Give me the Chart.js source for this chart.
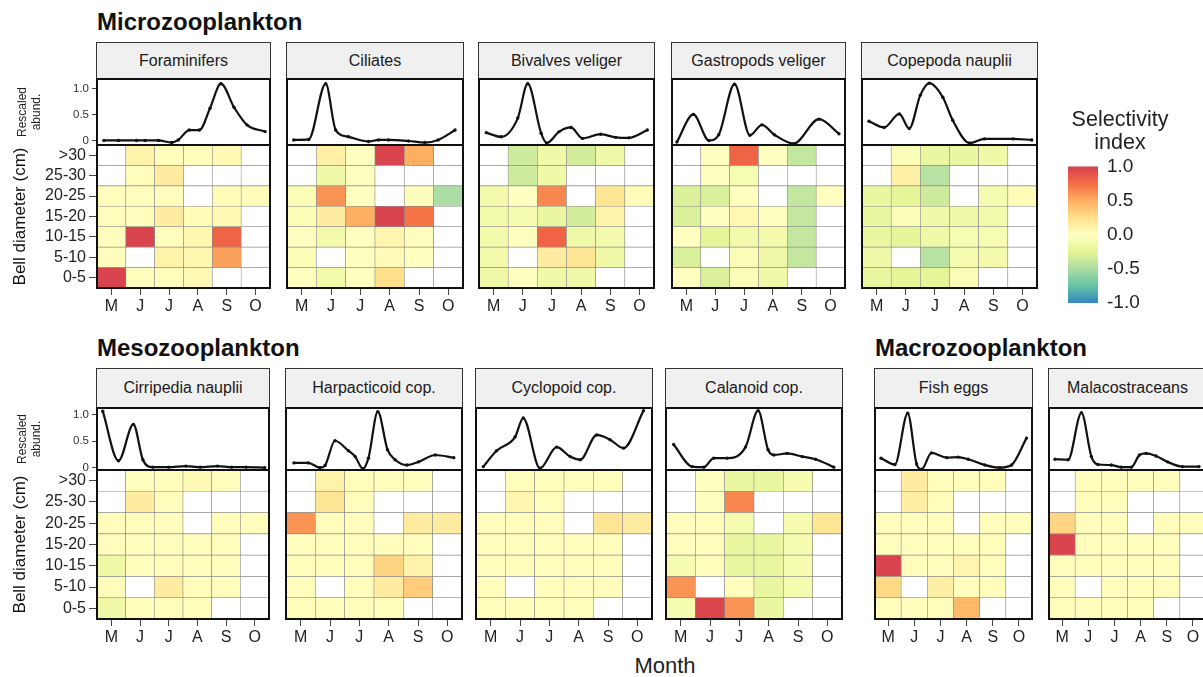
<!DOCTYPE html>
<html>
<head>
<meta charset="utf-8">
<script src="https://cdn.jsdelivr.net/npm/chart.js@4/dist/chart.umd.min.js"></script>
<style>
body{margin:0;width:1203px;height:677px;overflow:hidden;background:#fff;position:relative;font-family:"Liberation Sans",Arial,sans-serif;color:#111}
.grp{position:absolute;font-weight:bold;font-size:24px;line-height:28px;white-space:nowrap}
.strip{position:absolute;box-sizing:border-box;background:#f0f0f0;border:1.5px solid #333;text-align:center;font-size:16px;color:#1a1a1a;white-space:nowrap;overflow:hidden}
canvas{position:absolute}
</style>
</head>
<body>
<div class="grp" style="left:97px;top:8px">Microzooplankton</div>
<div class="grp" style="left:97px;top:334px">Mesozooplankton</div>
<div class="grp" style="left:875px;top:334px">Macrozooplankton</div>
<div style="position:absolute;left:600px;width:130px;top:653px;text-align:center;font-size:22px;color:#222">Month</div>
<script>
// months on the x axis, size classes bottom -> top
var months = ['M', 'J', 'J', 'A', 'S', 'O'];
var sizeClasses = ['0-5', '5-10', '10-15', '15-20', '20-25', '25-30', '>30'];
var abundTicks = [0, 0.5, 1];
var legendTicks = [-1, -0.5, 0, 0.5, 1];

// rescaled abundance: [month position, value], 0 = start of May
var foraminifersAbund = [[0.24,0.01],[0.74,0.01],[1.37,0.01],[1.67,0.01],[2.13,0.01],[2.59,-0.03],[2.82,0.02],[3.2,0.21],[3.55,0.21],[3.92,0.63],[4.3,1.1],[4.75,0.65],[5.2,0.31],[5.83,0.18]];
var ciliatesAbund = [[0.23,0.02],[0.74,0.03],[1.32,1.1],[1.66,0.21],[2.1,0.08],[2.78,-0.01],[3.12,0.02],[3.46,0.02],[4.14,0.0],[4.7,-0.03],[5.15,0.02],[5.73,0.21]];
var bivalvesAbund = [[0.25,0.16],[0.76,0.08],[1.33,0.44],[1.67,1.1],[2.13,0.15],[2.32,-0.04],[2.75,0.18],[3.15,0.26],[3.55,0.05],[4.17,0.13],[4.69,0.07],[5.14,0.06],[5.77,0.21]];
var gastropodsAbund = [[0.17,-0.02],[0.74,0.51],[1.28,0.01],[1.62,0.12],[2.17,1.09],[2.7,0.11],[3.12,0.31],[3.55,0.12],[4.22,-0.05],[5.1,0.42],[5.79,0.14]];
var copepodaAbund = [[0.24,0.38],[0.76,0.26],[1.28,0.52],[1.62,0.24],[2.0,0.88],[2.31,1.11],[2.77,0.84],[3.11,0.4],[3.69,-0.04],[4.2,0.04],[5.18,0.04],[5.82,0.02]];
var cirripediaAbund = [[0.2,1.07],[0.75,0.13],[1.27,0.82],[1.6,0.15],[1.95,0.01],[2.5,0.01],[3.1,0.03],[3.6,0.01],[4.2,0.03],[4.7,0.01],[5.2,0.01],[5.85,0.0]];
var harpacticoidAbund = [[0.27,0.09],[0.76,0.09],[1.16,0.0],[1.33,0.04],[1.67,0.51],[2.13,0.32],[2.36,0.21],[2.62,-0.02],[2.81,0.18],[3.13,1.06],[3.46,0.34],[3.72,0.15],[4.12,0.05],[4.52,0.11],[5.09,0.24],[5.72,0.19]];
var cyclopoidAbund = [[0.25,0.02],[0.7,0.32],[1.33,0.58],[1.61,0.94],[2.18,-0.01],[2.75,0.39],[3.21,0.21],[3.55,0.15],[4.12,0.62],[4.57,0.53],[5.03,0.37],[5.71,1.08]];
var calanoidAbund = [[0.26,0.44],[0.89,0.02],[1.29,0.01],[1.63,0.18],[2.08,0.18],[2.71,0.39],[3.14,1.08],[3.48,0.34],[3.68,0.24],[4.13,0.27],[4.64,0.21],[5.1,0.16],[5.72,0.01]];
var fishEggsAbund = [[0.23,0.18],[0.76,0.06],[1.25,1.03],[1.59,0.07],[1.78,-0.03],[2.16,0.28],[2.74,0.19],[3.18,0.2],[3.56,0.16],[4.2,0.05],[4.77,0.0],[5.22,0.05],[5.79,0.56]];
var malacostraceansAbund = [[0.23,0.16],[0.73,0.15],[1.24,1.04],[1.62,0.21],[1.87,0.06],[2.38,0.05],[2.76,0.01],[3.14,0.01],[3.46,0.24],[3.71,0.27],[4.09,0.22],[4.53,0.11],[5.1,0.02],[5.73,0.02]];

// selectivity index, rows as drawn: >30 first, 0-5 last; null = no data
var foraminifersSel = [
  [null, 0.1, 0.02, 0.02, 0.05, null],
  [null, 0.02, 0.15, null, null, null],
  [0.02, 0.02, 0.02, null, 0.03, 0.03],
  [0.02, 0.02, 0.15, 0.03, 0.05, null],
  [0.02, 0.97, 0.02, 0.07, 0.8, null],
  [0.02, null, 0.1, 0.07, 0.55, null],
  [0.97, 0.02, 0.02, 0.05, null, null]
];
var ciliatesSel = [
  [null, 0.12, 0.0, 0.97, 0.5, null],
  [null, -0.15, 0.0, null, null, null],
  [-0.06, 0.6, 0.0, null, 0.02, -0.5],
  [-0.06, 0.15, 0.5, 0.97, 0.72, null],
  [0.0, -0.12, 0.0, 0.08, 0.02, null],
  [-0.06, null, 0.0, 0.04, 0.0, null],
  [0.0, -0.12, 0.0, 0.25, null, null]
];
var bivalvesSel = [
  [null, -0.35, -0.15, -0.33, -0.15, null],
  [null, -0.35, -0.15, null, null, null],
  [-0.12, 0.0, 0.65, null, 0.2, 0.03],
  [-0.12, -0.1, -0.2, -0.33, 0.1, null],
  [-0.12, 0.0, 0.8, -0.15, -0.12, null],
  [-0.12, null, 0.15, 0.2, -0.15, null],
  [-0.15, 0.0, -0.15, -0.15, null, null]
];
var gastropodsSel = [
  [null, 0.0, 0.8, 0.0, -0.4, null],
  [null, 0.0, -0.08, null, null, null],
  [-0.3, -0.3, 0.0, null, -0.4, 0.0],
  [-0.3, 0.0, 0.06, 0.0, -0.4, null],
  [0.0, -0.25, -0.12, -0.12, -0.4, null],
  [-0.3, null, -0.05, -0.15, -0.4, null],
  [0.0, -0.3, -0.05, -0.15, null, null]
];
var copepodaSel = [
  [null, -0.05, -0.2, -0.2, -0.15, null],
  [null, 0.12, -0.45, null, null, null],
  [-0.2, -0.25, -0.35, null, -0.1, 0.03],
  [-0.2, -0.05, -0.15, -0.15, -0.12, null],
  [-0.2, -0.25, -0.15, -0.08, -0.08, null],
  [-0.15, null, -0.45, -0.1, -0.12, null],
  [-0.2, -0.25, -0.25, -0.05, null, null]
];
var cirripediaSel = [
  [null, 0.02, 0.02, 0.05, 0.02, null],
  [null, 0.15, 0.02, null, null, null],
  [0.02, 0.02, 0.02, null, 0.02, 0.02],
  [0.02, 0.02, 0.02, 0.02, 0.02, null],
  [-0.15, 0.02, 0.02, 0.02, 0.02, null],
  [0.02, null, 0.15, 0.02, 0.02, null],
  [-0.15, 0.02, 0.02, 0.02, null, null]
];
var harpacticoidSel = [
  [null, 0.1, 0.02, 0.02, 0.02, null],
  [null, 0.2, 0.02, null, null, null],
  [0.6, 0.02, 0.02, null, 0.15, 0.15],
  [0.02, 0.02, 0.02, 0.02, 0.02, null],
  [0.02, 0.02, 0.02, 0.3, 0.1, null],
  [0.02, null, 0.02, 0.15, 0.35, null],
  [0.02, 0.02, 0.02, 0.02, null, null]
];
var cyclopoidSel = [
  [null, 0.02, 0.02, 0.02, 0.02, null],
  [null, 0.08, 0.02, null, null, null],
  [0.02, 0.02, 0.02, null, 0.2, 0.15],
  [0.02, 0.02, 0.02, 0.02, 0.02, null],
  [0.02, 0.02, 0.02, 0.02, 0.02, null],
  [0.02, null, 0.02, 0.02, 0.02, null],
  [0.02, 0.02, 0.02, 0.02, null, null]
];
var calanoidSel = [
  [null, 0.0, -0.2, -0.2, -0.1, null],
  [null, 0.0, 0.65, null, null, null],
  [0.02, 0.02, -0.1, null, -0.1, 0.2],
  [0.02, 0.02, -0.2, -0.2, -0.1, null],
  [-0.1, 0.02, -0.2, -0.2, -0.1, null],
  [0.6, null, 0.02, -0.2, -0.1, null],
  [-0.1, 0.95, 0.6, -0.2, null, null]
];
var fishEggsSel = [
  [null, 0.15, 0.02, 0.02, 0.02, null],
  [null, 0.13, 0.02, null, null, null],
  [0.02, 0.02, 0.02, null, 0.02, 0.02],
  [0.02, 0.02, 0.02, 0.02, 0.02, null],
  [0.97, 0.02, 0.02, 0.08, 0.02, null],
  [0.28, null, 0.13, 0.02, 0.02, null],
  [0.02, 0.02, 0.02, 0.45, null, null]
];
var malacostraceansSel = [
  [null, 0.02, 0.02, 0.02, 0.02, null],
  [null, 0.02, 0.02, null, null, null],
  [0.3, 0.02, 0.02, null, 0.02, 0.02],
  [0.97, 0.02, 0.02, 0.02, 0.02, null],
  [0.02, 0.02, 0.02, 0.02, 0.02, null],
  [0.02, null, 0.02, 0.02, 0.02, null],
  [0.02, 0.02, 0.02, 0.02, null, null]
];

// colour scale of the selectivity index
var palette = [[-1, '#3288BD'], [-0.75, '#66C2A5'], [-0.5, '#ABDDA4'], [-0.25, '#E6F598'], [0, '#FFFFBF'],
  [0.25, '#FEE08B'], [0.5, '#FDAE61'], [0.75, '#F46D43'], [1, '#D53E4F']];

// page layout
var rows = [
  { stripTop: 42, lineTop: 79, heatTop: 145, heatBottom: 288, yMin: -0.077, yMax: 1.19 },
  { stripTop: 368, lineTop: 408, heatTop: 470, heatBottom: 619, yMin: -0.044, yMax: 1.13 }
];
var panels = [
  { title: 'Foraminifers', abund: foraminifersAbund, sel: foraminifersSel, row: 0, left: 97, width: 173, axes: true },
  { title: 'Ciliates', abund: ciliatesAbund, sel: ciliatesSel, row: 0, left: 287, width: 176 },
  { title: 'Bivalves veliger', abund: bivalvesAbund, sel: bivalvesSel, row: 0, left: 479, width: 175 },
  { title: 'Gastropods veliger', abund: gastropodsAbund, sel: gastropodsSel, row: 0, left: 672, width: 173 },
  { title: 'Copepoda nauplii', abund: copepodaAbund, sel: copepodaSel, row: 0, left: 862, width: 175 },
  { title: 'Cirripedia nauplii', abund: cirripediaAbund, sel: cirripediaSel, row: 1, left: 97, width: 172, axes: true },
  { title: 'Harpacticoid cop.', abund: harpacticoidAbund, sel: harpacticoidSel, row: 1, left: 286, width: 176 },
  { title: 'Cyclopoid cop.', abund: cyclopoidAbund, sel: cyclopoidSel, row: 1, left: 476, width: 176 },
  { title: 'Calanoid cop.', abund: calanoidAbund, sel: calanoidSel, row: 1, left: 666, width: 176 },
  { title: 'Fish eggs', abund: fishEggsAbund, sel: fishEggsSel, row: 1, left: 875, width: 157 },
  { title: 'Malacostraceans', abund: malacostraceansAbund, sel: malacostraceansSel, row: 1, left: 1049, width: 157 }
];

Chart.defaults.font.family = "'Liberation Sans', Arial, sans-serif";

function hexRgb(h) {
  return [parseInt(h.substr(1, 2), 16), parseInt(h.substr(3, 2), 16), parseInt(h.substr(5, 2), 16)];
}
function selColor(v) {
  if (v === null) return '#ffffff';
  for (var i = 1; i < palette.length; i++) {
    if (v <= palette[i][0]) {
      var a = palette[i - 1], b = palette[i];
      var t = (v - a[0]) / (b[0] - a[0]);
      var ca = hexRgb(a[1]), cb = hexRgb(b[1]);
      return 'rgb(' + ca.map(function (c, k) { return Math.round(c + (cb[k] - c) * t); }).join(',') + ')';
    }
  }
  return palette[palette.length - 1][1];
}

// thick black frame round each plot panel
var framePlugin = {
  id: 'frame',
  afterDraw: function (chart) {
    var a = chart.chartArea, c = chart.ctx;
    c.save();
    c.strokeStyle = '#111';
    c.lineWidth = 2;
    c.strokeRect(a.left, a.top, a.right - a.left, a.bottom - a.top);
    c.restore();
  }
};

function addCanvas(left, top, w, h) {
  var c = document.createElement('canvas');
  c.width = w; c.height = h;
  c.style.left = left + 'px'; c.style.top = top + 'px';
  c.style.width = w + 'px'; c.style.height = h + 'px';
  document.body.appendChild(c);
  return c;
}

function drawStrip(p, r) {
  var d = document.createElement('div');
  d.className = 'strip';
  var h = r.lineTop - r.stripTop + 1;
  d.style.left = (p.left - 1) + 'px';
  d.style.top = r.stripTop + 'px';
  d.style.width = (p.width + 2) + 'px';
  d.style.height = h + 'px';
  d.style.lineHeight = (h - 3) + 'px';
  d.textContent = p.title;
  document.body.appendChild(d);
}

function drawAbund(p, r) {
  var padT = 10, padB = 10, padR = 4;
  var axisW = p.axes ? p.left : 0;
  var padL = p.axes ? 0 : 4;
  var w = padL + axisW + p.width + padR;
  var h = padT + (r.heatTop - r.lineTop) + padB;
  var cv = addCanvas(p.left - axisW - padL, r.lineTop - padT, w, h);
  new Chart(cv, {
    type: 'line',
    data: {
      datasets: [{
        data: p.abund.map(function (d) { return { x: d[0], y: d[1] }; }),
        borderColor: '#111',
        borderWidth: 2.2,
        pointRadius: 1.7,
        pointBackgroundColor: '#111',
        pointBorderWidth: 0,
        cubicInterpolationMode: 'monotone'
      }]
    },
    options: {
      responsive: false, animation: false, devicePixelRatio: 1,
      layout: { padding: { left: padL, right: padR, top: padT, bottom: padB } },
      plugins: { legend: { display: false }, tooltip: { enabled: false } },
      scales: {
        x: { type: 'linear', min: 0, max: 6, display: false },
        y: {
          min: r.yMin, max: r.yMax, display: !!p.axes,
          afterFit: function (s) { s.width = axisW; },
          afterBuildTicks: function (s) { s.ticks = abundTicks.map(function (v) { return { value: v }; }); },
          ticks: { autoSkip: false, font: { size: 11.5 }, color: '#333', padding: 3,
            callback: function (v) { return v === 0 ? '0' : v.toFixed(1); } },
          grid: { drawOnChartArea: false, tickLength: 5, tickColor: '#444' },
          border: { display: false },
          title: { display: true, text: ['Rescaled', 'abund.'], color: '#222',
            font: { size: 12, lineHeight: 1.17 }, padding: { top: 16, bottom: 0 } }
        }
      }
    },
    plugins: [framePlugin]
  });
}

function drawHeat(p, r) {
  var padT = 14, padR = 4, axisH = 34;
  var axisW = p.axes ? p.left : 0;
  var padL = p.axes ? 0 : 4;
  var w = padL + axisW + p.width + padR;
  var h = padT + (r.heatBottom - r.heatTop) + axisH;
  var cv = addCanvas(p.left - axisW - padL, r.heatTop - padT, w, h);
  var bottomUp = p.sel.slice().reverse();
  var datasets = bottomUp.map(function (row, k) {
    return {
      label: sizeClasses[k],
      data: row.map(function () { return 1; }),
      backgroundColor: row.map(selColor),
      borderColor: '#8a8a8a',
      borderWidth: 0.6,
      borderSkipped: false,
      barPercentage: 1,
      categoryPercentage: 1
    };
  });
  new Chart(cv, {
    type: 'bar',
    data: { labels: months, datasets: datasets },
    options: {
      responsive: false, animation: false, devicePixelRatio: 1,
      layout: { padding: { left: padL, right: padR, top: padT, bottom: 0 } },
      plugins: { legend: { display: false }, tooltip: { enabled: false } },
      scales: {
        x: {
          stacked: true, offset: true,
          afterFit: function (s) { s.height = axisH; },
          grid: { offset: false, drawOnChartArea: false, tickLength: 7, tickColor: '#444' },
          border: { display: false },
          ticks: { autoSkip: false, maxRotation: 0, font: { size: 16 }, color: '#222', padding: 2 }
        },
        y: {
          stacked: true, min: 0, max: 7, display: !!p.axes,
          afterFit: function (s) { s.width = axisW; },
          afterBuildTicks: function (s) { s.ticks = sizeClasses.map(function (c, i) { return { value: i + 0.5 }; }); },
          ticks: { autoSkip: false, font: { size: 16 }, color: '#222', padding: 3,
            callback: function (v) { return sizeClasses[Math.floor(v)]; } },
          grid: { drawOnChartArea: false, tickLength: 8, tickColor: '#444' },
          border: { display: false },
          title: { display: true, text: 'Bell diameter (cm)', color: '#111',
            font: { size: 17 }, padding: { top: 10, bottom: 0 } }
        }
      }
    },
    plugins: [framePlugin]
  });
}

panels.forEach(function (p) {
  var r = rows[p.row];
  drawStrip(p, r);
  drawAbund(p, r);
  drawHeat(p, r);
});

// colour bar legend
var legendCanvas = addCanvas(1062, 96, 110, 229);
new Chart(legendCanvas, {
  type: 'bar',
  data: {
    labels: [''],
    datasets: [{
      data: [[-1, 1]],
      barPercentage: 1, categoryPercentage: 1, borderWidth: 0,
      backgroundColor: function (ctx) {
        var a = ctx.chart.chartArea;
        if (!a) return null;
        var g = ctx.chart.ctx.createLinearGradient(0, a.bottom, 0, a.top);
        palette.forEach(function (s) { g.addColorStop((s[0] + 1) / 2, s[1]); });
        return g;
      }
    }]
  },
  options: {
    responsive: false, animation: false, devicePixelRatio: 1,
    layout: { padding: { left: 6, right: 0, top: 0, bottom: 22 } },
    plugins: {
      legend: { display: false }, tooltip: { enabled: false },
      title: { display: true, text: ['Selectivity', 'index'], color: '#222',
        font: { size: 21.5, weight: 'normal', lineHeight: 1.08 }, padding: { top: 12, bottom: 12 } }
    },
    scales: {
      x: { display: false },
      y: {
        position: 'right', min: -1, max: 1,
        afterFit: function (s) { s.width = 74; },
        afterBuildTicks: function (s) { s.ticks = legendTicks.map(function (v) { return { value: v }; }); },
        ticks: { autoSkip: false, font: { size: 19 }, color: '#222', padding: 9,
          callback: function (v) { return v.toFixed(1); } },
        grid: { display: false, drawTicks: false },
        border: { display: false }
      }
    }
  }
});
</script>
</body>
</html>
